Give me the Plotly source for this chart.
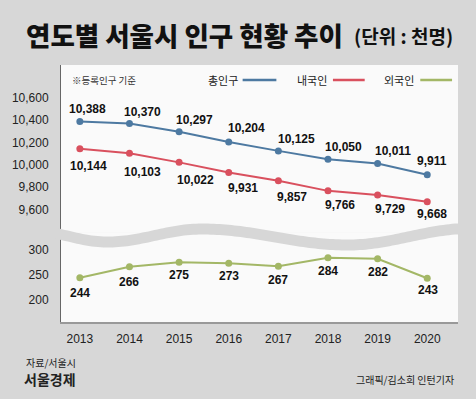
import math
import plotly.graph_objects as go

# ---------------- data ----------------
years = [2013, 2014, 2015, 2016, 2017, 2018, 2019, 2020]
total_pop = [10388, 10370, 10297, 10204, 10125, 10050, 10011, 9911]
domestic_pop = [10144, 10103, 10022, 9931, 9857, 9766, 9729, 9668]
foreign_pop = [244, 266, 275, 273, 267, 284, 282, 243]
top_ticks = [9600, 9800, 10000, 10200, 10400, 10600]
bottom_ticks = [200, 250, 300]
series_names = ["총인구", "내국인", "외국인"]

# ---------------- styling / layout constants ----------------
W, H = 476, 399
L, R, T, B = 58, 458, 65, 322
BG = "#d7d7d7"
PANEL = "#fafafa"
C_TOTAL = "#4d79a1"
C_DOM = "#d9505e"
C_FOR = "#a3b766"
NUM_FONT = "Liberation Sans"
KR_FONT = "Noto Sans CJK KR"

# label offsets in pixels (dx right, dy down)
off_total = [(8, -13), (13, -12), (15, -12), (18, -14), (18, -12), (16, -12), (15, -13), (5, -14)]
off_dom = [(9, 17), (13, 19), (16, 18), (14, 16), (14, 16), (12, 14), (12, 14), (5, 12)]
off_for = [(0, 15), (0, 15), (0, 13), (0, 13), (0, 14), (0, 13), (0, 13), (1, 12)]


def px(x):
    return (x - L) / (R - L)


def py(y):
    return (B - y) / (B - T)


fig = go.Figure()
fig.add_trace(go.Scatter(x=years, y=total_pop, yaxis="y2", mode="lines+markers",
                         line=dict(color=C_TOTAL, width=2), marker=dict(size=7, color=C_TOTAL),
                         name=series_names[0], hoverinfo="skip"))
fig.add_trace(go.Scatter(x=years, y=domestic_pop, yaxis="y2", mode="lines+markers",
                         line=dict(color=C_DOM, width=2), marker=dict(size=7, color=C_DOM),
                         name=series_names[1], hoverinfo="skip"))
fig.add_trace(go.Scatter(x=years, y=foreign_pop, yaxis="y", mode="lines+markers",
                         line=dict(color=C_FOR, width=2), marker=dict(size=7, color=C_FOR),
                         name=series_names[2], hoverinfo="skip"))

annotations = []
for vals, offs, yref in ((total_pop, off_total, "y2"), (domestic_pop, off_dom, "y2"), (foreign_pop, off_for, "y")):
    for x, v, (dx, dy) in zip(years, vals, offs):
        annotations.append(dict(x=x, y=v, xref="x", yref=yref, text=f"{v:,}", showarrow=False,
                                xshift=dx, yshift=-dy, xanchor="center", yanchor="middle",
                                font=dict(family=NUM_FONT, size=12, color="#111", weight="bold")))

# title
annotations.append(dict(x=px(21), y=py(35), xref="paper", yref="paper", xanchor="left", yanchor="middle",
                        text="연도별 서울시 인구 현황 추이", showarrow=False,
                        font=dict(family=KR_FONT, size=26.5, color="#111", weight=900)))
annotations.append(dict(x=px(455), y=py(36), xref="paper", yref="paper", xanchor="right", yanchor="middle",
                        text="(단위 : 천명)", showarrow=False,
                        font=dict(family=KR_FONT, size=19, color="#111", weight="bold")))
# legend-like header
annotations.append(dict(x=px(67), y=py(80), xref="paper", yref="paper", xanchor="left", yanchor="middle",
                        text="※등록인구 기준", showarrow=False,
                        font=dict(family=KR_FONT, size=9.5, color="#333")))
legend_spec = [(series_names[0], 238, 241, 275, C_TOTAL),
               (series_names[1], 328, 332, 364, C_DOM),
               (series_names[2], 416, 420, 452, C_FOR)]
shapes = []
for name, tx, lx0, lx1, col in legend_spec:
    annotations.append(dict(x=px(tx), y=py(80), xref="paper", yref="paper", xanchor="right", yanchor="middle",
                            text=name, showarrow=False,
                            font=dict(family=KR_FONT, size=11, color="#222")))
    shapes.append(dict(type="line", xref="paper", yref="paper", x0=px(lx0), x1=px(lx1),
                       y0=py(80), y1=py(80), line=dict(color=col, width=2.5)))

# footer
annotations.append(dict(x=px(21), y=py(363), xref="paper", yref="paper", xanchor="left", yanchor="middle",
                        text="자료/서울시", showarrow=False,
                        font=dict(family=KR_FONT, size=10, color="#222")))
annotations.append(dict(x=px(19), y=py(379), xref="paper", yref="paper", xanchor="left", yanchor="middle",
                        text="서울경제", showarrow=False,
                        font=dict(family=KR_FONT, size=14, color="#222", weight="bold")))
annotations.append(dict(x=px(456), y=py(379), xref="paper", yref="paper", xanchor="right", yanchor="middle",
                        text="그래픽/김소희 인턴기자", showarrow=False,
                        font=dict(family=KR_FONT, size=10, color="#222")))

# wavy axis-break band (pixel extrema -> smooth cosine interpolation)
extrema = [(20, 223.5), (105, 236.5), (200, 223.5), (347, 239.5), (470, 223.0)]


def wave_top(x):
    for (x0, y0), (x1, y1) in zip(extrema[:-1], extrema[1:]):
        if x0 <= x <= x1:
            t = (x - x0) / (x1 - x0)
            return y0 + (y1 - y0) * (1 - math.cos(math.pi * t)) / 2
    return extrema[-1][1]


thick = 11
xs = list(range(50, 467, 3))
top_pts = [(px(x), py(wave_top(x))) for x in xs]
bot_pts = [(px(x), py(wave_top(x) + thick)) for x in reversed(xs)]
pts = top_pts + bot_pts
path = "M " + " L ".join(f"{a:.5f},{b:.5f}" for a, b in pts) + " Z"
shapes.append(dict(type="path", xref="paper", yref="paper", path=path,
                   fillcolor=BG, line=dict(width=0), layer="above"))

top_range = [9396, 10896.5]
bottom_range = [155.4, 335.4]

fig.update_layout(
    width=W, height=H,
    margin=dict(l=L, r=W - R, t=T, b=H - B, pad=0),
    paper_bgcolor=BG, plot_bgcolor=PANEL,
    showlegend=False,
    annotations=annotations,
    shapes=shapes,
    xaxis=dict(range=[2012.62, 2020.62], tickvals=years, ticktext=[str(y) for y in years],
               showline=True, linecolor="#999", linewidth=2, ticks="outside", ticklen=5,
               tickcolor="rgba(0,0,0,0)", tickfont=dict(family=NUM_FONT, size=12, color="#222"),
               showgrid=False, zeroline=False, fixedrange=True),
    yaxis=dict(domain=[0, 0.35], range=bottom_range, tickvals=bottom_ticks,
               showline=True, linecolor="#666", linewidth=1, ticks="outside", ticklen=9,
               tickcolor="rgba(0,0,0,0)", tickfont=dict(family=NUM_FONT, size=12, color="#222"),
               showgrid=False, zeroline=False, fixedrange=True),
    yaxis2=dict(domain=[0.35, 1], range=top_range, tickvals=top_ticks, tickformat=",",
                showline=True, linecolor="#666", linewidth=1, ticks="outside", ticklen=9,
                tickcolor="rgba(0,0,0,0)", tickfont=dict(family=NUM_FONT, size=12, color="#222"),
                showgrid=False, zeroline=False, fixedrange=True, anchor="x"),
)

fig.write_html("out.html", config={"displayModeBar": False},
               post_script="document.body.style.margin='0';document.body.style.overflow='hidden';")
